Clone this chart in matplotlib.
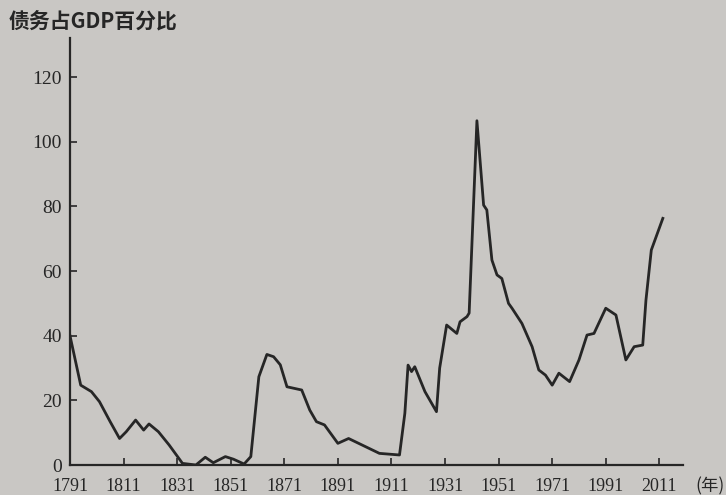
import matplotlib.pyplot as plt

# 美国联邦债务占GDP百分比
years = [1791, 1795, 1799, 1802, 1806, 1809.5, 1812, 1815.5, 1818.5, 1820.5, 1824, 1828, 1833,
         1838, 1841.5, 1844.5, 1849, 1852, 1856, 1858.5, 1861.5, 1864.5, 1867, 1869.5, 1872,
         1877.5, 1880.5, 1883, 1886, 1891, 1895, 1900, 1906.5, 1914, 1916, 1917.2, 1918.5,
         1919.7, 1923.5, 1927.8, 1929, 1931.6, 1935.4, 1936.6, 1939.2, 1940, 1942.9, 1945.4,
         1946.6, 1948.5, 1950.4, 1952.2, 1954.7, 1956, 1959.7, 1963.5, 1966, 1968.5, 1971,
         1973.5, 1977.5, 1981, 1984, 1986.6, 1991, 1994.8, 1998.5, 2001.6, 2004.8, 2006, 2008,
         2012.3]
debt_pct = [40, 24.7, 22.7, 19.6, 13.4, 8.2, 10.3, 13.9, 10.8, 12.7, 10.3, 6.2, 0.5,
            0, 2.4, 0.7, 2.6, 1.8, 0.3, 2.6, 27.3, 34.2, 33.5, 31, 24.2,
            23.2, 17, 13.4, 12.4, 6.7, 8.2, 6.2, 3.6, 3.1, 16, 30.9, 28.9,
            30.4, 22.7, 16.5, 30, 43.3, 40.7, 44.3, 45.9, 47, 106.5, 80.4,
            78.9, 63.4, 58.8, 57.7, 50, 48.5, 43.8, 36.6, 29.4, 27.8, 24.7,
            28.4, 25.8, 32.5, 40.2, 40.7, 48.5, 46.4, 32.5, 36.6, 37.1, 51, 66.5,
            76.3]

xticks = list(range(1791, 2012, 20))
yticks = [0, 20, 40, 60, 80, 100, 120]

bg = "#c9c7c4"
ink = "#262626"

fig = plt.figure(figsize=(7.26, 4.95), dpi=100, facecolor=bg)
ax = fig.add_axes([0.0964, 0.0606, 0.845, 0.862], facecolor=bg)

ax.plot(years, debt_pct, color=ink, lw=2.0, solid_joinstyle="round")

ax.set_xlim(1791, 2020)
ax.set_ylim(0, 132)
ax.spines[["top", "right"]].set_visible(False)
ax.spines[["left", "bottom"]].set_color(ink)
ax.spines[["left", "bottom"]].set_linewidth(1.6)

ax.set_xticks(xticks)
ax.set_yticks(yticks)
ax.tick_params(direction="in", length=5, width=1.2, color=ink)
ax.tick_params(axis="x", pad=9, labelsize=13)
ax.tick_params(axis="y", pad=6, labelsize=14)
for lab in ax.get_xticklabels() + ax.get_yticklabels():
    lab.set_fontfamily("Liberation Serif")
    lab.set_color(ink)

fig.text(0.012, 0.958, "债务占GDP百分比", fontsize=15, fontweight="bold",
         family=["Noto Sans CJK SC", "DejaVu Sans"], color=ink, va="center")
fig.text(0.998, 0.018, "(年)", fontsize=12.5, ha="right", va="center",
         family=["Noto Sans CJK SC", "DejaVu Sans"], color=ink)

fig.savefig("out.png", dpi=100, facecolor=bg)
